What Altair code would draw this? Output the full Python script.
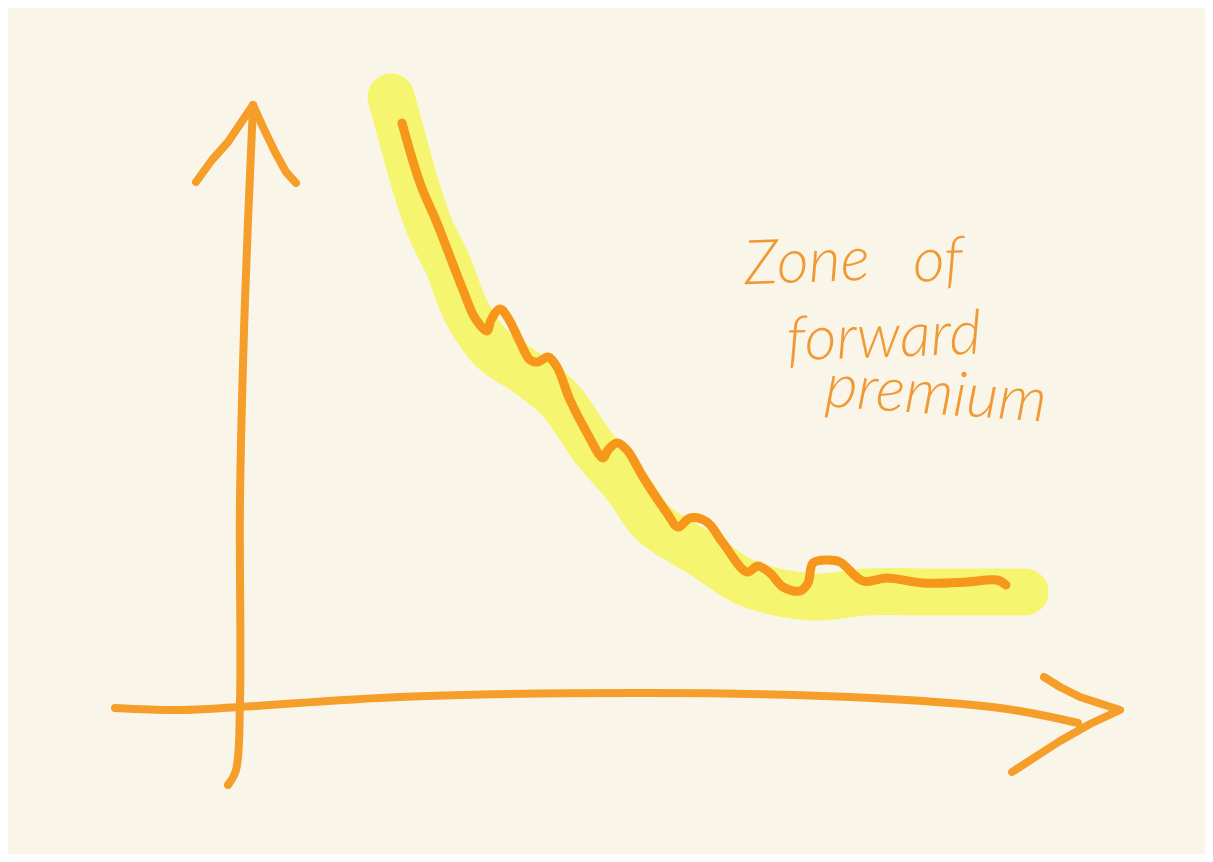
import altair as alt
import pandas as pd

alt.data_transformers.disable_max_rows()

# Sketch positions, in units of the picture
highlight_x = [391, 402, 416, 430, 448, 467, 493, 527, 560, 593, 627, 653, 700, 747, 813, 867, 933, 1025]
highlight_y = [97, 137, 187, 228, 265, 313, 350, 373, 400, 447, 487, 523, 553, 583, 597, 592, 592, 592]

curve_x = [402, 420, 437, 463, 475, 487, 491, 500, 508, 520, 530, 538, 548, 557, 570, 587, 603, 608, 617, 627,
           643, 667, 678, 690, 707, 723, 747, 758, 770, 783, 800, 808, 813, 827, 840, 863, 887, 923, 967, 997, 1006]
curve_y = [123, 183, 223, 290, 318, 331, 320, 309, 318, 342, 360, 362, 357, 367, 400, 433, 458, 450, 443, 450,
           477, 513, 527, 518, 522, 543, 572, 566, 573, 587, 591, 583, 563, 560, 562, 581, 578, 583, 582, 580, 585]

y_axis_x = [228, 236, 240, 240, 245, 253]
y_axis_y = [785, 770, 700, 500, 300, 105]

y_head_x = [196, 212, 228, 253, 262, 275, 286, 296]
y_head_y = [182, 160, 142, 105, 125, 152, 172, 183]

x_axis_x = [115, 180, 240, 400, 650, 850, 1000, 1078]
x_axis_y = [708, 710, 707, 697, 693, 697, 708, 723]

x_head_x = [1044, 1060, 1080, 1120, 1090, 1060, 1012]
x_head_y = [677, 687, 697, 710, 724, 741, 772]

labels = ["Zone", "of", "forward", "premium"]
label_x = [807, 938, 884, 936]
label_y = [263, 262, 338, 395]
label_angle = [358, 358, 358, 4]


def frame(xs, ys):
    return pd.DataFrame({"x": xs, "y": ys, "i": range(len(xs))})


xs = alt.Scale(domain=[8, 1205], nice=False, zero=False)
ys = alt.Scale(domain=[8, 854], nice=False, zero=False, reverse=True)
X = alt.X("x:Q", scale=xs, axis=None)
Y = alt.Y("y:Q", scale=ys, axis=None)
O = alt.Order("i:Q")


def stroke(xs_, ys_, color, width, interp="catmull-rom"):
    return alt.Chart(frame(xs_, ys_)).mark_line(
        color=color, strokeWidth=width, strokeCap="round", strokeJoin="round",
        interpolate=interp, clip=False,
    ).encode(x=X, y=Y, order=O)


text_layers = []
for t, lx, ly, a in zip(labels, label_x, label_y, label_angle):
    text_layers.append(
        alt.Chart(pd.DataFrame({"x": [lx], "y": [ly], "t": [t]})).mark_text(
            font="Lato", fontSize=62, fontWeight=300, fontStyle="italic",
            color="#F09A35", angle=a, align="center", baseline="middle",
        ).encode(x=X, y=Y, text="t:N")
    )

chart = alt.layer(
    stroke(highlight_x, highlight_y, "#F6F56F", 47),
    stroke(y_axis_x, y_axis_y, "#F59E2A", 8),
    stroke(y_head_x, y_head_y, "#F59E2A", 8, "linear"),
    stroke(x_axis_x, x_axis_y, "#F59E2A", 8),
    stroke(x_head_x, x_head_y, "#F59E2A", 8, "linear"),
    stroke(curve_x, curve_y, "#F6961B", 9),
    *text_layers,
).properties(width=1197, height=846, background="#F9F6E9", padding=0).configure_view(stroke=None)

chart.save("out.html", embed_options={"renderer": "svg", "actions": False})
